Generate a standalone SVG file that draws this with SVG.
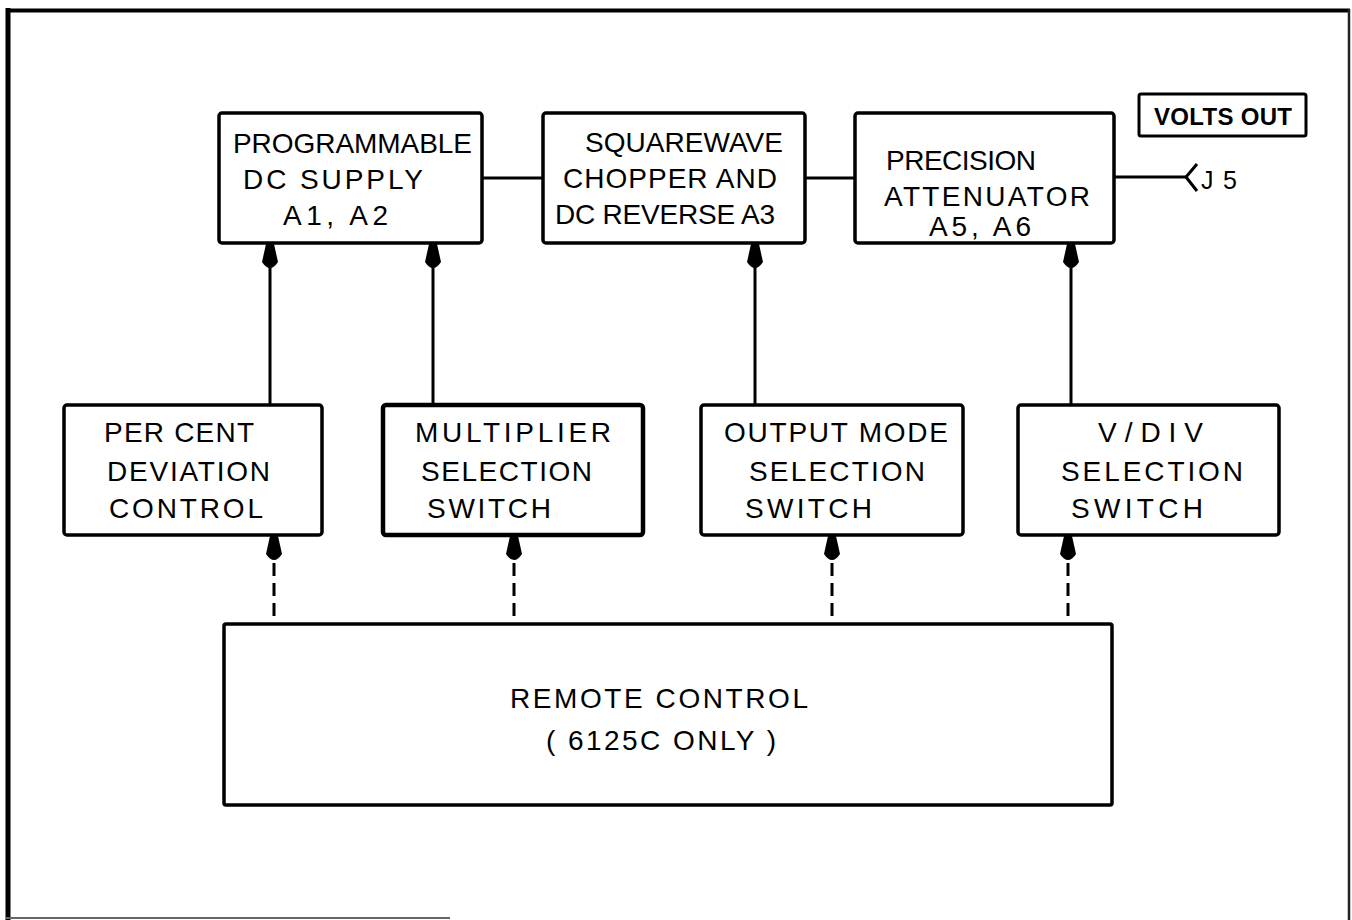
<svg xmlns="http://www.w3.org/2000/svg" width="1352" height="920" viewBox="0 0 1352 920">
<defs>
<style>
.box{fill:#fff;stroke:#000;stroke-width:3.5}
.t{font-family:"Liberation Sans",Arial,sans-serif;font-size:28px;fill:#000}
.ln{stroke:#000;stroke-width:3;fill:none}
.dash{stroke:#000;stroke-width:3;fill:none;stroke-dasharray:13 7}
.ah{fill:#000;stroke:none}
</style>
</defs>
<rect width="1352" height="920" fill="#fff"/>
<g id="frame">
<line x1="8" y1="8" x2="8" y2="920" stroke="#000" stroke-width="5"/>
<line x1="6" y1="10.5" x2="1350" y2="10.5" stroke="#000" stroke-width="4"/>
<line x1="1349" y1="9" x2="1349" y2="920" stroke="#222" stroke-width="2.5"/>
<line x1="6" y1="918" x2="450" y2="918" stroke="#666" stroke-width="2"/>
</g>
<g id="connectors">
<line class="ln" x1="482" y1="178" x2="543" y2="178"/>
<line class="ln" x1="805" y1="178" x2="855" y2="178"/>
<line class="ln" x1="1114" y1="177" x2="1186" y2="177"/>
<polyline class="ln" points="1197,164 1186,177 1197,191"/>
<line class="ln" x1="270" y1="405" x2="270" y2="266"/>
<path class="ah" d="M266,244 L274,244 L278,262 Q270,274 262,262 Z"/>
<line class="ln" x1="433" y1="405" x2="433" y2="266"/>
<path class="ah" d="M429,244 L437,244 L441,262 Q433,274 425,262 Z"/>
<line class="ln" x1="755" y1="405" x2="755" y2="266"/>
<path class="ah" d="M751,244 L759,244 L763,262 Q755,274 747,262 Z"/>
<line class="ln" x1="1071" y1="405" x2="1071" y2="266"/>
<path class="ah" d="M1067,244 L1075,244 L1079,262 Q1071,274 1063,262 Z"/>
<line class="dash" x1="274" y1="563" x2="274" y2="624"/>
<path class="ah" d="M270,536 L278,536 L282,554 Q274,566 266,554 Z"/>
<line class="dash" x1="514" y1="563" x2="514" y2="624"/>
<path class="ah" d="M510,536 L518,536 L522,554 Q514,566 506,554 Z"/>
<line class="dash" x1="832" y1="563" x2="832" y2="624"/>
<path class="ah" d="M828,536 L836,536 L840,554 Q832,566 824,554 Z"/>
<line class="dash" x1="1068" y1="563" x2="1068" y2="624"/>
<path class="ah" d="M1064,536 L1072,536 L1076,554 Q1068,566 1060,554 Z"/>
</g>
<g id="dc-supply">
<rect class="box" x="219" y="113" width="263" height="130" rx="3"/>
<text class="t" x="233" y="153" textLength="239" lengthAdjust="spacing">PROGRAMMABLE</text>
<text class="t" x="243" y="189" textLength="180" lengthAdjust="spacing">DC SUPPLY</text>
<text class="t" x="283" y="225" textLength="105" lengthAdjust="spacing">A1, A2</text>
</g>
<g id="chopper">
<rect class="box" x="543" y="113" width="262" height="130" rx="3"/>
<text class="t" x="585" y="152" textLength="198" lengthAdjust="spacing">SQUAREWAVE</text>
<text class="t" x="563" y="188" textLength="214" lengthAdjust="spacing">CHOPPER AND</text>
<text class="t" x="555" y="224" textLength="220" lengthAdjust="spacing">DC REVERSE A3</text>
</g>
<g id="attenuator">
<rect class="box" x="855" y="113" width="259" height="130" rx="3"/>
<text class="t" x="886" y="170" textLength="150" lengthAdjust="spacing">PRECISION</text>
<text class="t" x="884" y="206" textLength="206" lengthAdjust="spacing">ATTENUATOR</text>
<text class="t" x="929" y="236" textLength="102" lengthAdjust="spacing">A5, A6</text>
</g>
<g id="volts-out">
<rect class="box" x="1139" y="94" width="167" height="42" rx="2" style="stroke-width:3"/>
<text class="t" x="1154" y="125" textLength="138" lengthAdjust="spacing" style="font-weight:bold;font-size:24px">VOLTS OUT</text>
</g>
<g id="j5">
<text class="t" x="1201" y="189" textLength="36" lengthAdjust="spacing" style="font-size:25px">J5</text>
</g>
<g id="percent">
<rect class="box" x="64" y="405" width="258" height="130" rx="3"/>
<text class="t" x="104" y="442" textLength="150" lengthAdjust="spacing">PER CENT</text>
<text class="t" x="107" y="481" textLength="163" lengthAdjust="spacing">DEVIATION</text>
<text class="t" x="109" y="518" textLength="154" lengthAdjust="spacing">CONTROL</text>
</g>
<g id="multiplier">
<rect class="box" x="383" y="405" width="260" height="130" rx="3" style="stroke-width:4.5"/>
<text class="t" x="415" y="442" textLength="196" lengthAdjust="spacing">MULTIPLIER</text>
<text class="t" x="421" y="481" textLength="171" lengthAdjust="spacing">SELECTION</text>
<text class="t" x="427" y="518" textLength="124" lengthAdjust="spacing">SWITCH</text>
</g>
<g id="output-mode">
<rect class="box" x="701" y="405" width="262" height="130" rx="3"/>
<text class="t" x="724" y="442" textLength="224" lengthAdjust="spacing">OUTPUT MODE</text>
<text class="t" x="749" y="481" textLength="176" lengthAdjust="spacing">SELECTION</text>
<text class="t" x="745" y="518" textLength="127" lengthAdjust="spacing">SWITCH</text>
</g>
<g id="vdiv">
<rect class="box" x="1018" y="405" width="261" height="130" rx="3"/>
<text class="t" x="1098" y="442" textLength="105" lengthAdjust="spacing">V/DIV</text>
<text class="t" x="1061" y="481" textLength="182" lengthAdjust="spacing">SELECTION</text>
<text class="t" x="1071" y="518" textLength="132" lengthAdjust="spacing">SWITCH</text>
</g>
<g id="remote">
<rect class="box" x="224" y="624" width="888" height="181" rx="2"/>
<text class="t" x="510" y="708" textLength="298" lengthAdjust="spacing">REMOTE CONTROL</text>
<text class="t" x="546" y="750" textLength="230" lengthAdjust="spacing">( 6125C ONLY )</text>
</g>
</svg>
